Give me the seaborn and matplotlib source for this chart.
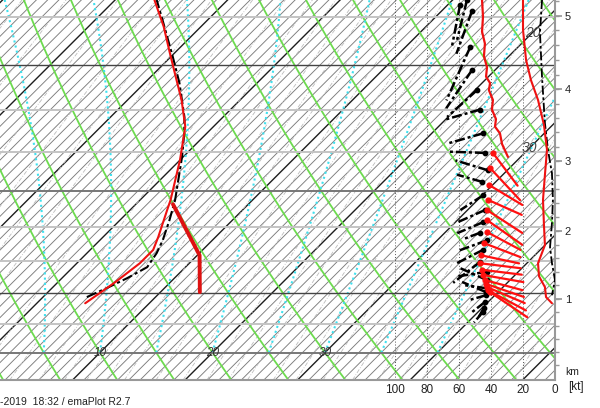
import numpy as np
import pandas as pd
import matplotlib
matplotlib.use("Agg")
from matplotlib import pyplot as plt
import seaborn as sns

# ---- sounding data (hPa / degC) ----
temp_p = [916, 899, 882, 853, 833, 814, 776, 762, 710, 669, 638, 613, 587, 560, 534]
temp_t = [4.3, 4.7, 5.1, 5.6, 5.6, 4.9, 3.3, 2.7, 0.0, -2.5, -5.2, -7.7, -10.4, -13.3, -16.5]
dew_p = [906, 891, 876, 859, 838, 819, 790, 762, 706, 677, 658, 619, 591, 556, 534]
dew_t = [3.9, 4.9, 5.8, 6.6, 6.2, 5.6, 4.4, 3.1, -0.1, -2.0, -3.4, -6.9, -9.8, -13.7, -16.3]
parcel_p = [898, 841, 768]
parcel_t = [13.5, 10.2, 3.3]

# wind speed profile upper part (kt)
spd_p = [534, 550, 565, 577, 590, 602, 612, 619, 627, 638, 649, 660, 669, 677, 690, 706]
spd_kt = [45.6, 45.0, 45.6, 43.8, 44.4, 42.5, 43.1, 40.6, 41.3, 38.8, 39.4, 36.9, 37.5, 34.4, 33.1, 29.4]

# right hand profiles (kt scale)
rprof_p = [534, 563, 594, 616, 638, 667, 697, 729, 762, 797, 826, 853, 873, 890, 906, 916]
rprof_v = [20.0, 20.0, 18.1, 15.0, 10.6, 6.9, 5.0, 6.3, 7.5, 6.9, 6.3, 10.6, 10.0, 6.3, 5.6, 1.9]
bprof_p = [534, 566, 613, 665, 697, 727, 762, 794, 829, 853, 879, 895, 903]
bprof_v = [8.1, 9.4, 8.1, 6.3, 4.4, 1.9, 1.3, 1.9, 3.1, 1.9, 0.0, 1.3, 1.9]

# wind vectors: level, speed, direction on plot (deg), length
red_p = [701, 720, 742, 762, 776, 790, 807, 823, 841, 853, 863, 871, 879, 885, 890, 895, 898]
red_kt = [38.8, 40.6, 41.3, 41.9, 42.5, 42.5, 42.5, 44.4, 46.3, 46.9, 45.6, 45.0, 43.8, 43.1, 42.5, 41.9, 40.6]
red_dir = [-53, -47, -31, -24, -33, -35, -28, -21, -12, -7, -7, -10, -15, -19, -23, -28, -34]
red_len = [41, 44, 39, 37, 42, 43, 38, 39, 39, 41, 40, 41, 39, 40, 41, 43, 45]

blk_p = [534, 539, 545, 581, 605, 627, 649, 677, 701, 723, 738, 756, 776, 793, 808, 819, 833,
         851, 866, 879, 892, 903, 914, 924, 898, 930]
blk_kt = [55.0, 59.4, 52.0, 53.1, 51.9, 48.8, 46.9, 45.0, 43.8, 41.9, 45.6, 45.0, 43.8, 45.0, 46.9,
          42.5, 45.0, 46.9, 42.5, 42.5, 42.5, 43.1, 43.8, 44.4, 43.1, 45.0]
blk_dir = [256, 259, 250, 246, 236, 222, 196, 196, 178, 163, 164, 213, 204, 203, 201, 200, 207,
           218, 189, 156, 172, 196, 218, 239, 157, 230]
blk_len = [41, 41, 45, 58, 46, 40, 35, 36, 35, 34, 26, 27, 30, 28, 19, 29, 29, 34, 30, 30, 22,
           19, 16, 12, 26, 14]

km_labels = ["1", "2", "3", "4", "5"]
km_p = [909, 805, 711, 626, 549]
kt_ticks = [100, 80, 60, 40, 20, 0]
temp_labels = [10, 20, 30]


def ypos(p):
    return 562 * np.log(1050 / np.asarray(p, dtype=float))


def xpos(t, p):
    return 100 + 11.25 * (np.asarray(t, dtype=float) - 10) + 562 * np.log(1000 / np.asarray(p, dtype=float))


def xwind(kt):
    return 555 - 1.6 * np.asarray(kt, dtype=float)


def moist_adiabat(t0, pres):
    T = t0 + 273.15
    out = [T]
    for i in range(1, len(pres)):
        p = pres[i - 1]
        es = 6.112 * np.exp(17.67 * (T - 273.15) / (T - 29.65))
        rs = 0.622 * es / (p - es)
        num = 287.04 * T + 2.501e6 * rs
        den = 1005.7 + 2.501e6 ** 2 * rs * 0.622 / (287.04 * T ** 2)
        T += num / den / p * (pres[i] - p)
        out.append(T)
    return np.array(out) - 273.15


sns.set_theme(style="white")
plt.rcParams['font.family'] = ['Liberation Sans', 'DejaVu Sans']

fig = plt.figure(figsize=(6, 4.08), dpi=100)
ax = fig.add_axes([0, 28 / 408, 555 / 600, 380 / 408])

pp = np.linspace(1050, 525, 120)

# isotherms
for t in range(-45, 55):
    dark = t % 10 == 0
    ax.plot(xpos([t, t], [1050, 525]), ypos([1050, 525]),
            color="#1e1e1e" if dark else "#7c7c7c", lw=1.0 if dark else 0.65, zorder=1)

# mixing ratio lines
for w in [0.3, 0.5, 0.7, 1, 1.5, 2, 2.5, 3, 4, 5, 6, 7, 8, 9, 10, 12, 14, 16, 18, 20,
          23, 26, 30, 35, 40, 45, 50, 60, 70, 80]:
    e = w * pp / (622 + w)
    le = np.log(e / 6.112)
    td = 243.5 * le / (17.67 - le)
    ax.plot(xpos(td, pp), ypos(pp), color="#bcbcbc", lw=0.6,
            linestyle=(0, (5, 2, 1, 2)), zorder=1)

# dry adiabats
for th in range(-40, 90, 5):
    tt = (th + 273.15) * (pp / 1000) ** 0.2857 - 273.15
    ax.plot(xpos(tt, pp), ypos(pp), color="#6ddb4f", lw=1.3, zorder=1.5)

# moist adiabats
pm = np.linspace(1000, 525, 300)
for t0 in range(0, 45, 5):
    tm = moist_adiabat(t0, pm)
    ax.plot(xpos(tm, pm), ypos(pm), color="#3fe0ee", lw=1.5, linestyle=(0, (1, 1.5)), zorder=1.5)

# isobars
for p in range(550, 1050, 50):
    dark = p in (600, 900)
    mid = p in (750, 1000)
    col = "#444444" if dark else ("#777777" if mid else "#c4c4c4")
    ax.axhline(ypos(p), color=col, lw=1.0 if dark else 1.4, zorder=1.8)

# wind speed grid
for k in kt_ticks[:-1]:
    ax.axvline(xwind(k), color="#555555", lw=0.7, linestyle=(0, (1, 2)), zorder=1.8)

# temperature labels
for t in temp_labels:
    ax.text(xpos(t, 1000), ypos(1000), str(t), fontsize=8.5, style="italic",
            color="#333333", ha="center", va="center", zorder=2)
for t, p in [(20, 566), (30, 695)]:
    ax.text(xpos(t, p), ypos(p), str(t), fontsize=10, style="italic",
            color="#444444", ha="center", va="center", zorder=2)

# profiles
sns.lineplot(x=xpos(temp_t, temp_p), y=ypos(temp_p), sort=False, estimator=None,
             color="#ee1111", lw=1.5, ax=ax, zorder=4)
sns.lineplot(x=xpos(dew_t, dew_p), y=ypos(dew_p), sort=False, estimator=None,
             color="black", lw=1.5, linestyle=(0, (5, 1.5, 1.5, 1.5)), ax=ax, zorder=3)
sns.lineplot(x=xpos(parcel_t, parcel_p), y=ypos(parcel_p), sort=False, estimator=None,
             color="#dd1111", lw=2.8, ax=ax, zorder=4)

sns.lineplot(x=xwind(spd_kt), y=ypos(spd_p), sort=False, estimator=None,
             color="#ee1111", lw=1.6, ax=ax, zorder=4)
sns.lineplot(x=xwind(rprof_v), y=ypos(rprof_p), sort=False, estimator=None,
             color="#ee1111", lw=1.5, ax=ax, zorder=4)
sns.lineplot(x=xwind(bprof_v), y=ypos(bprof_p), sort=False, estimator=None,
             color="black", lw=1.3, linestyle=(0, (5, 1.5, 1.5, 1.5)), ax=ax, zorder=3)


def vectors(p, kt, d, ln):
    hx, hy = xwind(kt), ypos(p)
    a = np.radians(d)
    tx, ty = hx + np.array(ln) * np.cos(a), hy + np.array(ln) * np.sin(a)
    n = len(p)
    df = pd.DataFrame({"x": np.r_[hx, tx], "y": np.r_[hy, ty],
                       "vid": np.r_[np.arange(n), np.arange(n)],
                       "end": [0] * n + [1] * n}).sort_values(["vid", "end"])
    return df, hx, hy


vb, bx, by = vectors(blk_p, blk_kt, blk_dir, blk_len)
sns.lineplot(data=vb, x="x", y="y", units="vid", estimator=None, sort=False,
             color="black", lw=1.8, linestyle=(0, (4, 1.2, 1.2, 1.2)), ax=ax, zorder=3)
ax.scatter(bx, by, s=10, color="black", marker="o", zorder=3)

vr, rx, ry = vectors(red_p, red_kt, red_dir, red_len)
sns.lineplot(data=vr, x="x", y="y", units="vid", estimator=None, sort=False,
             color="#ff1010", lw=1.6, ax=ax, zorder=4)
ax.scatter(rx, ry, s=12, color="#ff1010", marker="o", zorder=4)

ax.set_xlabel("")
ax.set_ylabel("")
for s in ["left", "top"]:
    ax.spines[s].set_visible(False)
for s in ["right", "bottom"]:
    ax.spines[s].set_color("#999999")
    ax.spines[s].set_linewidth(1.5)

ax.set_xticks(xwind(kt_ticks))
ax.set_xticklabels([str(k) for k in kt_ticks], fontsize=8.5, color="#222222")
ax.tick_params(axis="x", length=0, pad=3)

ax.yaxis.tick_right()
km_y = ypos(km_p)
ax.set_yticks(km_y)
ax.set_yticklabels(km_labels, fontsize=8, color="#222222")
fit = np.polyfit([1, 2, 3, 4, 5], km_y, 2)
minor = np.polyval(fit, np.arange(0.0, 5.6, 0.2))
ax.set_yticks(minor[(minor > 0) & (minor < 380)], minor=True)
ax.tick_params(axis="y", which="major", length=5, color="#999999", direction="out", pad=2)
ax.tick_params(axis="y", which="minor", length=3, color="#999999", direction="out")
ax.tick_params(axis="y", which="both", right=True, left=False)

ax.set_xlim(0, 555)
ax.set_ylim(0, 380)

fig.text(565 / 600, 1 - 372 / 408, "km", fontsize=7.5, color="#222222", ha="left", va="center")
fig.text(568 / 600, 1 - 387 / 408, "[kt]", fontsize=8.5, color="#222222", ha="left", va="center")
fig.text(0.0, 1 - 402 / 408, "-2019  18:32 / emaPlot R2.7", fontsize=7.5,
         color="#222222", ha="left", va="center")

plt.savefig("out.png", dpi=100)
